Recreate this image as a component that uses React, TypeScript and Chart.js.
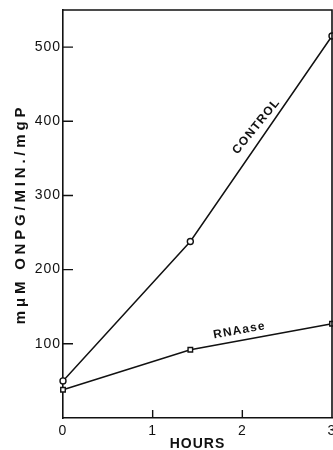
import React, { useEffect, useRef } from "react";
import { Chart, registerables } from "chart.js";

Chart.register(...registerables);

const hours = [0, 1.42, 3];
const controlValues = [50, 238, 515];
const rnaseValues = [38, 92, 127];
const yTickValues = [100, 200, 300, 400, 500];
const xTickValues = [0, 1, 2, 3];
const seriesLabels = ["CONTROL", "RNAase"];
const yTitle = "mμM ONPG/MIN./mgP";
const xTitle = "HOURS";

const FONT = "'Liberation Sans', Arial, sans-serif";

const framePlugin = {
  id: "frame",
  beforeDraw(chart: any) {
    chart.ctx.letterSpacing = "1px";
  },
  afterLayout(chart: any) {
    const ys = chart.scales.y;
    if (ys && !ys.__patched) {
      const orig = ys.drawTitle.bind(ys);
      ys.drawTitle = function () {
        const c = this.ctx;
        c.save();
        c.letterSpacing = "3.8px";
        orig();
        c.restore();
      };
      ys.__patched = true;
    }
  },
  afterDraw(chart: any) {
    const { ctx, chartArea } = chart;
    const xs = chart.scales.x;
    const ys = chart.scales.y;
    ctx.save();
    ctx.strokeStyle = "#111";
    ctx.lineWidth = 1.6;
    ctx.beginPath();
    ctx.moveTo(chartArea.left, chartArea.top);
    ctx.lineTo(chartArea.right, chartArea.top);
    ctx.lineTo(chartArea.right, chartArea.bottom);
    ctx.stroke();
    ctx.lineWidth = 1.4;
    ctx.beginPath();
    yTickValues.forEach((v) => {
      const py = ys.getPixelForValue(v);
      ctx.moveTo(chartArea.left, py);
      ctx.lineTo(chartArea.left + 10, py);
    });
    xTickValues.slice(1, -1).forEach((v) => {
      const px = xs.getPixelForValue(v);
      ctx.moveTo(px, chartArea.bottom);
      ctx.lineTo(px, chartArea.bottom - 8);
    });
    ctx.stroke();

    const drawLabel = (
      text: string,
      data: number[],
      seg: number,
      frac: number,
      offset: number,
      extraRot: number
    ) => {
      const x0 = xs.getPixelForValue(hours[seg]);
      const y0 = ys.getPixelForValue(data[seg]);
      const x1 = xs.getPixelForValue(hours[seg + 1]);
      const y1 = ys.getPixelForValue(data[seg + 1]);
      const ang = Math.atan2(y1 - y0, x1 - x0);
      const cx = x0 + (x1 - x0) * frac;
      const cy = y0 + (y1 - y0) * frac;
      const nx = Math.sin(ang);
      const ny = -Math.cos(ang);
      ctx.save();
      ctx.translate(cx + nx * offset, cy + ny * offset);
      ctx.rotate(ang + extraRot);
      ctx.font = `bold 12px ${FONT}`;
      ctx.letterSpacing = "1.2px";
      ctx.fillStyle = "#111";
      ctx.textAlign = "center";
      ctx.textBaseline = "middle";
      ctx.fillText(text, 0, 0);
      ctx.restore();
    };
    drawLabel(seriesLabels[0], controlValues, 1, 0.53, 11, 0.08);
    drawLabel(seriesLabels[1], rnaseValues, 1, 0.36, 10, 0);
    ctx.restore();
  },
};

export default function App() {
  const ref = useRef<HTMLCanvasElement>(null);
  useEffect(() => {
    if (!ref.current) return;
    const chart = new Chart(ref.current, {
      type: "line",
      data: {
        datasets: [
          {
            label: seriesLabels[0],
            data: hours.map((h, i) => ({ x: h, y: controlValues[i] })),
            borderColor: "#111",
            borderWidth: 1.5,
            pointStyle: "circle",
            pointRadius: 3,
            pointBackgroundColor: "#fff",
            pointBorderColor: "#111",
            pointBorderWidth: 1.4,
            tension: 0,
          },
          {
            label: seriesLabels[1],
            data: hours.map((h, i) => ({ x: h, y: rnaseValues[i] })),
            borderColor: "#111",
            borderWidth: 1.5,
            pointStyle: "rect",
            pointRadius: 3.2,
            pointBackgroundColor: "#fff",
            pointBorderColor: "#111",
            pointBorderWidth: 1.4,
            tension: 0,
          },
        ],
      },
      options: {
        animation: false,
        responsive: false,
        clip: false as any,
        layout: { padding: { top: 10, right: 1, left: 0, bottom: 0 }, autoPadding: false },
        plugins: {
          legend: { display: false },
          tooltip: { enabled: false },
        },
        scales: {
          x: {
            type: "linear",
            min: 0,
            max: 3,
            afterFit(scale: any) {
              scale.height = 32;
              scale.paddingLeft = 0;
              scale.paddingRight = 0;
            },
            afterBuildTicks(scale: any) {
              scale.ticks = xTickValues.map((v) => ({ value: v }));
            },
            grid: { display: false, drawTicks: false },
            border: { display: true, color: "#111", width: 1.6 },
            ticks: {
              color: "#111",
              padding: 5,
              font: { family: FONT, size: 14 },
              callback: (v: any) => String(v),
            },
            title: {
              display: true,
              text: xTitle,
              color: "#111",
              padding: { top: 0, bottom: 0 },
              font: { family: FONT, size: 14, weight: "bold", lineHeight: 0.8 },
            },
          },
          y: {
            type: "linear",
            min: 0,
            max: 550,
            afterFit(scale: any) {
              scale.width = 63;
              scale.paddingTop = 0;
              scale.paddingBottom = 0;
            },
            afterBuildTicks(scale: any) {
              scale.ticks = yTickValues.map((v) => ({ value: v }));
            },
            grid: { display: false, drawTicks: false },
            border: { display: true, color: "#111", width: 1.6 },
            ticks: {
              color: "#111",
              padding: 2,
              font: { family: FONT, size: 14 },
              callback: (v: any) => String(v),
            },
            title: {
              display: true,
              text: yTitle,
              color: "#111",
              padding: { top: 12, bottom: 0 },
              font: { family: FONT, size: 15, weight: "bold", lineHeight: 1.2 },
            },
          },
        },
      },
      plugins: [framePlugin],
    });
    return () => chart.destroy();
  }, []);
  return (
    <div style={{ position: "absolute", left: 0, top: 0, width: 333, height: 450, background: "#fff" }}>
      <canvas ref={ref} width={333} height={450} style={{ display: "block" }} />
    </div>
  );
}
